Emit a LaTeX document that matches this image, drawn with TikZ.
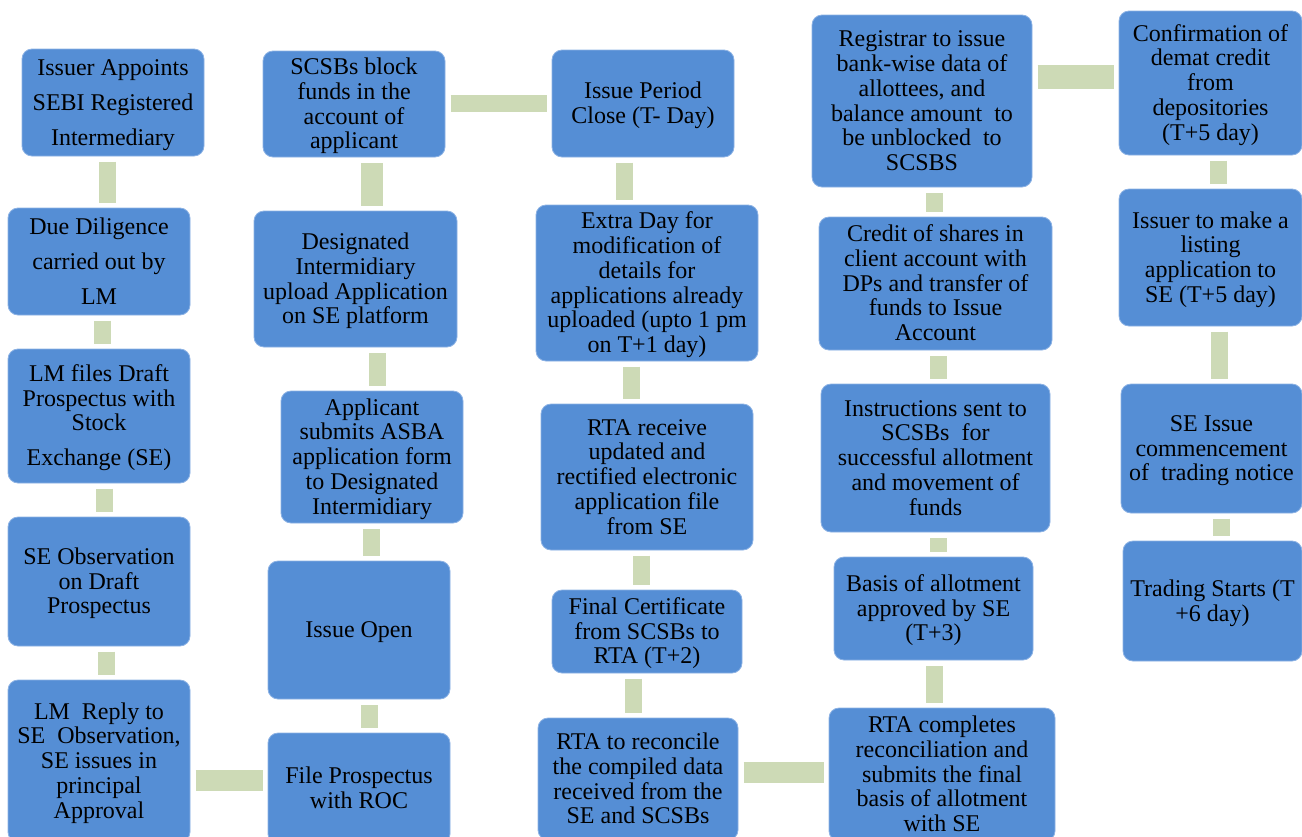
\documentclass[tikz,border=0pt]{standalone}
\usepackage{fontspec}
\setmainfont{Liberation Serif}
\definecolor{boxblue}{RGB}{85,142,213}
\definecolor{boxedge}{RGB}{140,178,228}
\definecolor{linkgreen}{RGB}{205,218,182}
\newcommand\mytop{\rule{0pt}{20.5pt}}
\newcommand\mybot{\rule[-5.2pt]{0pt}{0pt}}
\begin{document}
\begin{tikzpicture}[x=1pt,y=-1pt,
  stepbox/.style={rectangle, rounded corners=10pt, fill=boxblue, draw=boxedge,
    line width=0.8pt, align=center, inner sep=0pt, outer sep=0pt,
    font={\fontsize{24}{24.7}\selectfont}, text=black},
  widebox/.style={font={\fontsize{24}{35}\selectfont}},
  link/.style={draw=linkgreen, line width=17pt, shorten <=5.5pt, shorten >=5.5pt},
]
\useasboundingbox (0,0) rectangle (1302,836);
\clip (0,0) rectangle (1302,836);
% column 1
\node[stepbox, widebox, minimum width=182pt, minimum height=107pt] (a1) at (113,102.5)
  {\mytop Issuer Appoints\\SEBI Registered\\Intermediary\mybot};
\node[stepbox, widebox, minimum width=182pt, minimum height=107pt] (a2) at (99,261.5)
  {\mytop Due Diligence\\carried out by\\LM\mybot};
\node[stepbox, minimum width=182pt, minimum height=134pt] (a3) at (99,416)
  {\mytop LM files Draft\\Prospectus with\\Stock\\[10.3pt]Exchange (SE)\mybot};
\node[stepbox, minimum width=182pt, minimum height=129pt] (a4) at (99,581.5)
  {\mytop SE Observation\\on Draft\\Prospectus\mybot};
\node[stepbox, minimum width=182pt, minimum height=162pt] (a5) at (99,761)
  {\mytop LM~ Reply to\\SE~ Observation,\\SE issues in\\principal\\Approval\mybot};
% column 2
\node[stepbox, minimum width=182pt, minimum height=106pt] (b1) at (354,104)
  {\mytop SCSBs block\\funds in the\\account of\\applicant\mybot};
\node[stepbox, minimum width=203pt, minimum height=136pt] (b2) at (355.5,279)
  {\mytop Designated\\Intermidiary\\upload Application\\on SE platform\mybot};
\node[stepbox, minimum width=182pt, minimum height=132pt] (b3) at (372,457)
  {\mytop Applicant\\submits ASBA\\application form\\to Designated\\Intermidiary\mybot};
\node[stepbox, minimum width=182pt, minimum height=138pt] (b4) at (359,630)
  {\mytop Issue Open\mybot};
\node[stepbox, minimum width=182pt, minimum height=111pt] (b5) at (359,788.5)
  {\mytop File Prospectus\\with ROC\mybot};
% column 3
\node[stepbox, minimum width=182pt, minimum height=107pt] (c1) at (643,103.5)
  {\mytop Issue Period\\Close (T- Day)\mybot};
\node[stepbox, minimum width=222pt, minimum height=156pt] (c2) at (647,283)
  {\mytop Extra Day for\\modification of\\details for\\applications already\\uploaded (upto 1 pm\\on T+1 day)\mybot};
\node[stepbox, minimum width=212pt, minimum height=146pt] (c3) at (647,477)
  {\mytop RTA receive\\updated and\\rectified electronic\\application file\\from SE\mybot};
\node[stepbox, minimum width=190pt, minimum height=83pt] (c4) at (647,631.5)
  {\mytop Final Certificate\\from SCSBs to\\RTA (T+2)\mybot};
\node[stepbox, minimum width=200pt, minimum height=122pt] (c5) at (638,779)
  {\mytop RTA to reconcile\\the compiled data\\received from the\\SE and SCSBs\mybot};
% column 4
\node[stepbox, minimum width=220pt, minimum height=172pt] (d1) at (922,101)
  {\mytop Registrar to issue\\bank-wise data of\\allottees, and\\balance amount~ to\\be unblocked~ to\\SCSBS\mybot};
\node[stepbox, minimum width=233pt, minimum height=133pt] (d2) at (935.5,283.5)
  {\mytop Credit of shares in\\client account with\\DPs and transfer of\\funds to Issue\\Account\mybot};
\node[stepbox, minimum width=229pt, minimum height=148pt] (d3) at (935.5,458)
  {\mytop Instructions sent to\\SCSBs~ for\\successful allotment\\and movement of\\funds\mybot};
\node[stepbox, minimum width=199pt, minimum height=103pt] (d4) at (933.5,608.5)
  {\mytop Basis of allotment\\approved by SE\\(T+3)\mybot};
\node[stepbox, minimum width=226pt, minimum height=133pt] (d5) at (942,774.5)
  {\mytop RTA completes\\reconciliation and\\submits the final\\basis of allotment\\with SE\mybot};
% column 5
\node[stepbox, minimum width=183pt, minimum height=144pt] (e1) at (1210.5,83)
  {\mytop Confirmation of\\demat credit\\from\\depositories\\(T+5 day)\mybot};
\node[stepbox, minimum width=183pt, minimum height=137pt] (e2) at (1210.5,257.5)
  {\mytop Issuer to make a\\listing\\application to\\SE (T+5 day)\mybot};
\node[stepbox, minimum width=181pt, minimum height=129pt] (e3) at (1211.5,448.5)
  {\mytop SE Issue\\commencement\\of~ trading notice\mybot};
\node[stepbox, minimum width=179pt, minimum height=120pt] (e4) at (1212.5,601)
  {\mytop Trading Starts (T\\+6 day)\mybot};
% connectors
\draw[link] (a1.south -| 107.5,0) -- (a2.north -| 107.5,0);
\draw[link] (a2.south -| 102.5,0) -- (a3.north -| 102.5,0);
\draw[link] (a3.south -| 104.5,0) -- (a4.north -| 104.5,0);
\draw[link] (a4.south -| 106.5,0) -- (a5.north -| 106.5,0);
\draw[link, line width=21pt] (a5.east |- 0,780.5) -- (b5.west |- 0,780.5);
\draw[link] (b5.north -| 369.5,0) -- (b4.south -| 369.5,0);
\draw[link] (b4.north -| 371.5,0) -- (b3.south -| 371.5,0);
\draw[link] (b3.north -| 377.5,0) -- (b2.south -| 377.5,0);
\draw[link, line width=22pt] (b2.north -| 372,0) -- (b1.south -| 372,0);
\draw[link] (b1.east |- 0,103.5) -- (c1.west |- 0,103.5);
\draw[link] (c1.south -| 624.5,0) -- (c2.north -| 624.5,0);
\draw[link] (c2.south -| 631.5,0) -- (c3.north -| 631.5,0);
\draw[link] (c3.south -| 641.5,0) -- (c4.north -| 641.5,0);
\draw[link] (c4.south -| 633.5,0) -- (c5.north -| 633.5,0);
\draw[link, line width=21pt] (c5.east |- 0,772.5) -- (d5.west |- 0,772.5);
\draw[link] (d5.north -| 934.5,0) -- (d4.south -| 934.5,0);
\draw[link] (d4.north -| 938.5,0) -- (d3.south -| 938.5,0);
\draw[link] (d3.north -| 938.5,0) -- (d2.south -| 938.5,0);
\draw[link] (d2.north -| 934.5,0) -- (d1.south -| 934.5,0);
\draw[link, line width=24pt] (d1.east |- 0,77) -- (e1.west |- 0,77);
\draw[link] (e1.south -| 1218.5,0) -- (e2.north -| 1218.5,0);
\draw[link] (e2.south -| 1219.5,0) -- (e3.north -| 1219.5,0);
\draw[link] (e3.south -| 1221.5,0) -- (e4.north -| 1221.5,0);
\end{tikzpicture}
\end{document}
